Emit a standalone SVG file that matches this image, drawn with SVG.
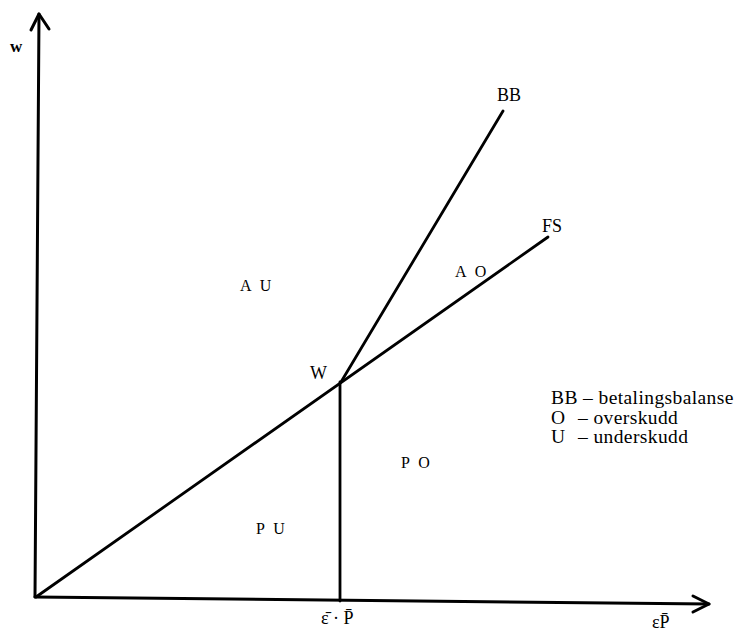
<svg xmlns="http://www.w3.org/2000/svg" width="741" height="632" viewBox="0 0 741 632">
<style>
.ax{stroke:#000;stroke-width:3;fill:none;stroke-linecap:round;stroke-linejoin:round}
.ln{stroke:#000;stroke-width:2.8;fill:none;stroke-linecap:round}
.lbl{font-family:"Liberation Serif","Times New Roman",serif;font-size:16px;fill:#000;letter-spacing:2.5px}
.big{font-family:"Liberation Serif","Times New Roman",serif;font-size:18px;fill:#000}
.leg{font-family:"Liberation Serif","Times New Roman",serif;font-size:19.5px;fill:#000;letter-spacing:0.4px}
</style>
<rect width="741" height="632" fill="#fff"/>
<g id="connectors">
<path class="ax" d="M35,597 L39,14"/>
<path class="ax" d="M31,30 L39,14 L49,29"/>
<path class="ax" d="M35,597 L709,604"/>
<path class="ax" d="M693,596 L709,604 L693,612"/>
<path class="ln" d="M36,597 L548,237"/>
<path class="ln" d="M341,382 L503,111"/>
<path class="ln" d="M340,382 L340,601"/>
</g>
<g id="axis-w"><text x="10" y="52" font-family="Liberation Serif, serif" font-size="17" font-weight="bold">w</text></g>
<g id="BB"><text class="big" x="497" y="101">BB</text></g>
<g id="FS"><text class="big" x="542" y="232">FS</text></g>
<g id="AO"><text class="lbl" x="455" y="277">A O</text></g>
<g id="AU"><text class="lbl" x="240" y="291">A U</text></g>
<g id="W"><text class="big" x="310" y="379">W</text></g>
<g id="PU"><text class="lbl" x="256" y="534">P U</text></g>
<g id="PO"><text class="lbl" x="401" y="468">P O</text></g>
<g id="legend">
<text class="leg" x="551" y="404">BB – betalingsbalanse</text>
<text class="leg" x="551" y="424">O<tspan x="578">– overskudd</tspan></text>
<text class="leg" x="551" y="443">U<tspan x="578">– underskudd</tspan></text>
</g>
<g id="xlabel-mid"><text class="big" x="321" y="624">ε̄ · P̄</text></g>
<g id="axis-x"><text class="big" x="652" y="628">εP̄</text></g>
</svg>
